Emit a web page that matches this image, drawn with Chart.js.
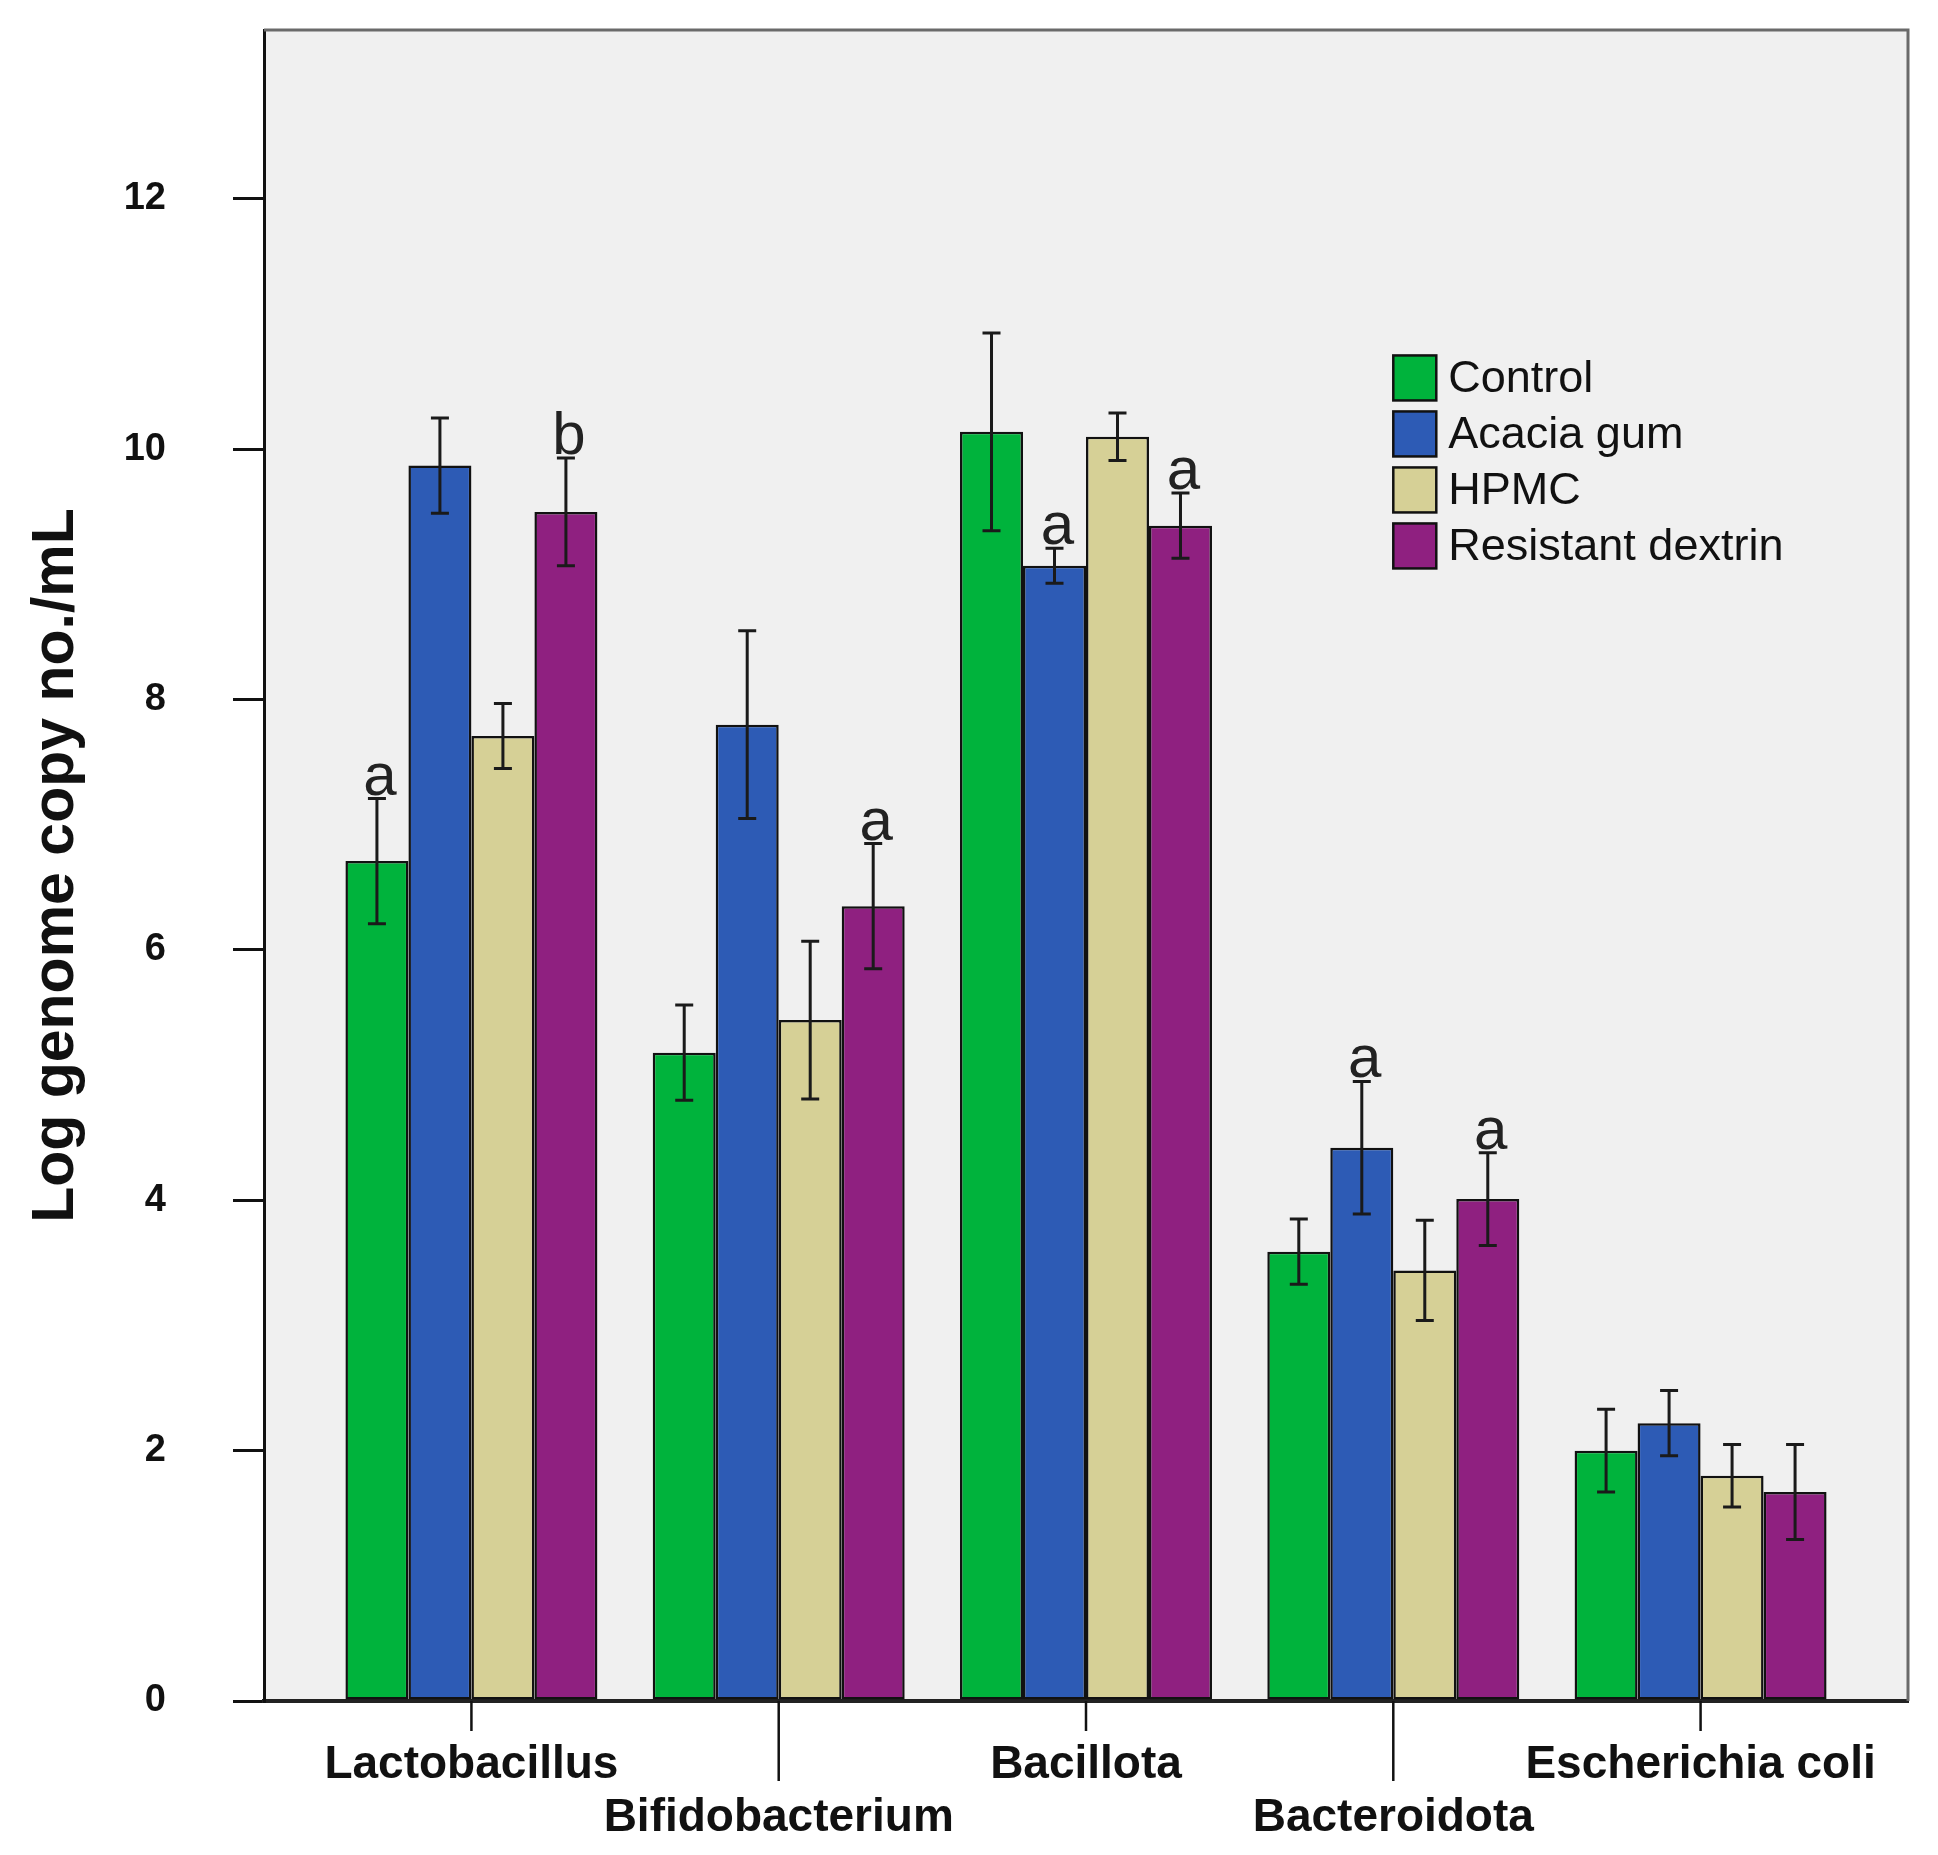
<!DOCTYPE html>
<html>
<head>
<meta charset="utf-8">
<script src="https://cdn.jsdelivr.net/npm/chart.js@4.4.1/dist/chart.umd.min.js"></script>
<style>
  html, body { margin: 0; padding: 0; background: #fff; }
  #wrap { width: 1938px; height: 1855px; }
</style>
</head>
<body>
<div id="wrap"><canvas id="chart" width="1938" height="1855"></canvas></div>
<script>
// values (log genome copy no./mL), mean and error half-length
const categories = ['Lactobacillus', 'Bifidobacterium', 'Bacillota', 'Bacteroidota', 'Escherichia coli'];
const seriesNames = ['Control', 'Acacia gum', 'HPMC', 'Resistant dextrin'];

const controlMean = [6.71, 5.18, 10.14, 3.59, 2.00];
const controlErr  = [0.50, 0.38, 0.79, 0.26, 0.33];
const acaciaMean  = [9.87, 7.80, 9.07, 4.42, 2.22];
const acaciaErr   = [0.38, 0.75, 0.14, 0.53, 0.26];
const hpmcMean    = [7.71, 5.44, 10.10, 3.44, 1.80];
const hpmcErr     = [0.26, 0.63, 0.19, 0.40, 0.25];
const dextrinMean = [9.50, 6.35, 9.39, 4.01, 1.67];
const dextrinErr  = [0.43, 0.50, 0.26, 0.37, 0.38];

const controlLetters = ['a', '', '', '', ''];
const acaciaLetters  = ['', '', 'a', 'a', ''];
const hpmcLetters    = ['', '', '', '', ''];
const dextrinLetters = ['b', 'a', 'a', 'a', ''];

const yTicks = [0, 2, 4, 6, 8, 10, 12];

const colors = ['#00b33c', '#2d5bb5', '#d6d096', '#8f2080'];
const FONT = '"Liberation Sans", Arial, sans-serif';

Chart.defaults.font.family = FONT;
Chart.defaults.color = '#111';

const toPoints = (arr) => arr.map((v, i) => ({ x: i, y: v }));

const series = [
    { mean: controlMean, err: controlErr, letters: controlLetters },
    { mean: acaciaMean, err: acaciaErr, letters: acaciaLetters },
    { mean: hpmcMean, err: hpmcErr, letters: hpmcLetters },
    { mean: dextrinMean, err: dextrinErr, letters: dextrinLetters }
];

const datasets = series.map((s, k) => ({
    label: seriesNames[k],
    data: toPoints(s.mean),
    errors: s.err,
    letters: s.letters,
    backgroundColor: colors[k],
    borderColor: '#111',
    borderWidth: 2.5,
    borderSkipped: false,
    categoryPercentage: 0.82,
    barPercentage: 1.0
}));

// no extra label padding around the plot, the frame is fixed
const noPad = (s) => {
    s.paddingTop = 0;
    s.paddingBottom = 0;
    s.paddingLeft = 0;
    s.paddingRight = 0;
};

// grey plot panel and the thin top/right frame
const panelPlugin = {
    id: 'panel',
    beforeDraw(chart) {
        const { ctx, chartArea: a } = chart;
        ctx.save();
        ctx.fillStyle = '#fff';
        ctx.fillRect(0, 0, chart.width, chart.height);
        ctx.fillStyle = '#f0f0f0';
        ctx.fillRect(a.left, a.top, a.right - a.left, a.bottom - a.top);
        ctx.restore();
    },
    afterDraw(chart) {
        const { ctx, chartArea: a } = chart;
        ctx.save();
        ctx.strokeStyle = '#6a6a6a';
        ctx.lineWidth = 3;
        ctx.beginPath();
        ctx.moveTo(a.left, a.top);
        ctx.lineTo(a.right, a.top);
        ctx.lineTo(a.right, a.bottom);
        ctx.stroke();
        ctx.restore();
    }
};

// error bars and significance letters
const errorPlugin = {
    id: 'errorBars',
    afterDatasetsDraw(chart) {
        const { ctx } = chart;
        const y = chart.scales.y;
        ctx.save();
        chart.data.datasets.forEach((ds, d) => {
            const meta = chart.getDatasetMeta(d);
            meta.data.forEach((bar, i) => {
                const m = ds.data[i].y;
                const e = ds.errors[i];
                const top = y.getPixelForValue(m + e);
                const bot = y.getPixelForValue(m - e);
                ctx.strokeStyle = '#1a1a1a';
                ctx.lineWidth = 3;
                ctx.beginPath();
                ctx.moveTo(bar.x, top);
                ctx.lineTo(bar.x, bot);
                ctx.moveTo(bar.x - 9, top);
                ctx.lineTo(bar.x + 9, top);
                ctx.moveTo(bar.x - 9, bot);
                ctx.lineTo(bar.x + 9, bot);
                ctx.stroke();
                const letter = ds.letters[i];
                if (letter) {
                    ctx.fillStyle = '#222';
                    ctx.font = '60px ' + FONT;
                    ctx.textAlign = 'center';
                    ctx.textBaseline = 'alphabetic';
                    ctx.fillText(letter, bar.x + 3, top - 4);
                }
            });
        });
        ctx.restore();
    }
};

// staggered x tick marks: short under first row labels, long under second row
const xTickPlugin = {
    id: 'xTicks',
    afterDraw(chart) {
        const { ctx, chartArea: a } = chart;
        const x = chart.scales.x;
        ctx.save();
        ctx.strokeStyle = '#111';
        ctx.lineWidth = 2.5;
        categories.forEach((c, i) => {
            const px = x.getPixelForValue(i);
            ctx.beginPath();
            ctx.moveTo(px, a.bottom);
            ctx.lineTo(px, a.bottom + (i % 2 ? 80 : 30));
            ctx.stroke();
        });
        ctx.restore();
    }
};

// legend drawn inside the panel, anchored on the data scales
const legendPlugin = {
    id: 'innerLegend',
    afterDraw(chart) {
        const { ctx } = chart;
        const x0 = chart.scales.x.getPixelForValue(3.0);
        const y0 = chart.scales.y.getPixelForValue(10.75);
        ctx.save();
        ctx.font = '45px ' + FONT;
        ctx.textAlign = 'left';
        ctx.textBaseline = 'middle';
        chart.data.datasets.forEach((ds, k) => {
            const top = y0 + k * 56;
            ctx.fillStyle = ds.backgroundColor;
            ctx.fillRect(x0, top, 43, 45);
            ctx.strokeStyle = '#111';
            ctx.lineWidth = 2.5;
            ctx.strokeRect(x0, top, 43, 45);
            ctx.fillStyle = '#111';
            ctx.fillText(ds.label, x0 + 55, top + 24);
        });
        ctx.restore();
    }
};

new Chart(document.getElementById('chart').getContext('2d'), {
    type: 'bar',
    data: { datasets },
    options: {
        responsive: false,
        animation: false,
        devicePixelRatio: 1,
        layout: { padding: { top: 30, right: 30, left: 0, bottom: 0 } },
        scales: {
            x: {
                type: 'linear',
                min: -0.675,
                max: 4.675,
                offset: false,
                afterBuildTicks: (s) => { s.ticks = categories.map((c, i) => ({ value: i })); },
                afterFit: (s) => { s.height = 154; noPad(s); },
                ticks: {
                    autoSkip: false,
                    maxRotation: 0,
                    padding: 30,
                    color: '#111',
                    font: { size: 46, weight: 'bold', lineHeight: 1.15 },
                    callback: (v, i) => (i % 2 ? ['', categories[i]] : categories[i])
                },
                grid: { display: false },
                border: { display: true, color: '#222', width: 4 }
            },
            y: {
                min: 0,
                max: 13.35,
                afterBuildTicks: (s) => { s.ticks = yTicks.map((v) => ({ value: v })); },
                afterFit: (s) => { s.width = 264; noPad(s); },
                ticks: {
                    padding: 67,
                    color: '#111',
                    font: { size: 38, weight: 'bold' }
                },
                grid: { drawOnChartArea: false, tickLength: 31, lineWidth: 3, color: '#111' },
                border: { display: true, color: '#111', width: 3 },
                title: {
                    display: true,
                    text: 'Log genome copy no./mL',
                    color: '#111',
                    font: { size: 59, weight: 'bold' },
                    padding: { top: 21, bottom: 0 }
                }
            }
        },
        plugins: {
            legend: { display: false },
            tooltip: { enabled: false }
        }
    },
    plugins: [panelPlugin, errorPlugin, xTickPlugin, legendPlugin]
});
</script>
</body>
</html>
